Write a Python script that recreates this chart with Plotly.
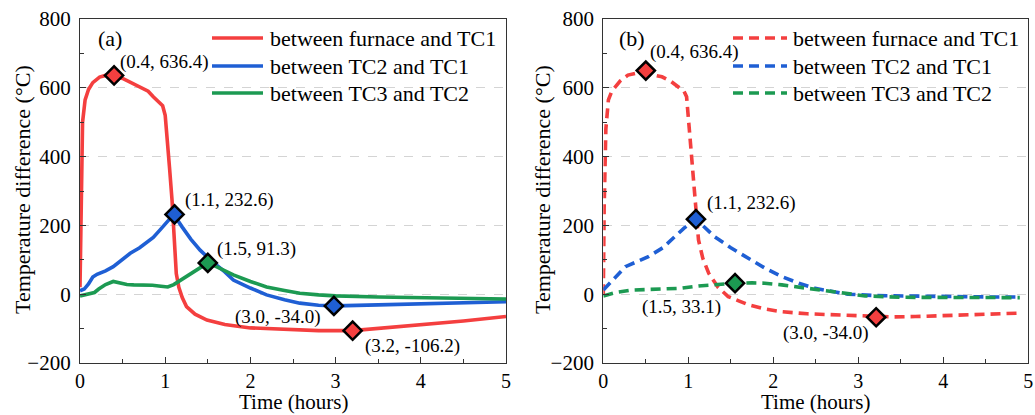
import plotly.graph_objects as go

# ---------------- data (panel a) ----------------
red_a_x = [0, 0.01, 0.03, 0.06, 0.1, 0.15, 0.23, 0.3, 0.4, 0.5, 0.6, 0.7, 0.8, 0.86, 0.92, 0.97, 1.0, 1.02,
           1.05, 1.08, 1.11, 1.13, 1.16, 1.2, 1.25, 1.35, 1.49, 1.7, 2.0, 2.46, 2.8, 3.2, 3.6, 4.0, 4.5, 5.0]
red_a_y = [20, 250, 500, 565, 595, 615, 631, 636, 636, 627, 615, 604, 590, 574, 560, 548, 520, 468,
           370, 274, 150, 60, 20, -10, -36, -58, -75, -88, -98, -104, -106, -106, -98, -90, -78, -65]

blue_a_x = [0, 0.05, 0.1, 0.15, 0.2, 0.3, 0.39, 0.5, 0.59, 0.7, 0.78, 0.86, 0.94, 1.02, 1.1, 1.2, 1.3,
            1.41, 1.55, 1.7, 1.8, 2.0, 2.19, 2.4, 2.58, 2.8, 3.0, 3.5, 4.0, 4.5, 5.0]
blue_a_y = [10, 15, 30, 50, 58, 68, 80, 100, 119, 135, 149, 165, 187, 210, 232, 195, 160,
            128, 95, 65, 41, 18, -2, -16, -26, -32, -34, -31, -28, -25, -22]

green_a_x = [0, 0.1, 0.17, 0.22, 0.3, 0.39, 0.47, 0.55, 0.63, 0.75, 0.85, 0.95, 1.03, 1.1, 1.18, 1.25,
             1.35, 1.5, 1.6, 1.7, 1.8, 2.0, 2.19, 2.4, 2.58, 2.8, 3.0, 3.5, 4.0, 4.5, 5.0]
green_a_y = [-5, 2, 5, 15, 28, 37, 33, 28, 27, 27, 26, 23, 21, 28, 40, 51,
             68, 91, 80, 67, 56, 37, 21, 11, 3, -2, -5, -8, -10, -12, -14]

# ---------------- data (panel b) ----------------
red_b_x = [0, 0.01, 0.03, 0.06, 0.1, 0.14, 0.2, 0.29, 0.4, 0.5, 0.6, 0.69, 0.8, 0.88, 0.95, 0.98, 1.0,
           1.04, 1.08, 1.12, 1.17, 1.24, 1.35, 1.47, 1.6, 1.71, 1.9, 2.1, 2.4, 2.69, 3.0, 3.21, 3.4,
           3.67, 4.0, 4.5, 4.9]
red_b_y = [0, 250, 480, 565, 590, 603, 620, 637, 643, 642, 638, 632, 618, 603, 590, 574, 516,
           419, 274, 158, 105, 61, 20, -7, -20, -31, -43, -51, -57, -60, -63, -66, -66,
           -65, -62, -58, -55]

blue_b_x = [0, 0.26, 0.53, 0.7, 0.84, 0.95, 1.09, 1.2, 1.31, 1.5, 1.71, 1.9, 2.1, 2.3, 2.49, 2.7,
            2.88, 3.2, 3.6, 4.0, 4.5, 4.9]
blue_b_y = [12, 80, 109, 135, 167, 192, 218, 192, 167, 135, 104, 76, 51, 32, 17, 7,
            0, -4, -6, -7, -8, -8]

green_b_x = [0, 0.15, 0.33, 0.5, 0.72, 0.9, 1.12, 1.3, 1.55, 1.75, 1.9, 2.1, 2.3, 2.49, 2.8, 3.08,
             3.5, 4.0, 4.5, 4.9]
green_b_y = [-5, 5, 12, 13, 14, 17, 24, 28, 32, 33, 32, 27, 20, 14, 4, -5,
             -9, -10, -10, -10]

# highlighted points
mk_a_x = [0.4, 1.11, 1.5, 2.98, 3.2]
mk_a_y = [636, 232, 91, -34, -106]
mk_a_c = ["red", "blue", "green", "blue", "red"]
mk_a_txt = ["(0.4, 636.4)", "(1.1, 232.6)", "(1.5, 91.3)", "(3.0, -34.0)", "(3.2, -106.2)"]
lab_a_x = [0.45, 1.21, 1.58, 2.84, 3.32]
lab_a_y = [675, 274, 131, -66, -150]
lab_a_anchor = ["left", "left", "left", "right", "left"]

mk_b_x = [0.5, 1.09, 1.55, 3.21]
mk_b_y = [650, 218, 32, -67]
mk_b_c = ["red", "blue", "green", "red"]
mk_b_txt = ["(0.4, 636.4)", "(1.1, 232.6)", "(1.5, 33.1)", "(3.0, -34.0)"]
lab_b_x = [0.53, 1.20, 1.41, 3.14]
lab_b_y = [705, 265, -36, -113]
lab_b_anchor = ["left", "left", "right", "right"]

names = ["between furnace and TC1", "between TC2 and TC1", "between TC3 and TC2"]
colors = ["red", "blue", "green"]
x_ticks = [0, 1, 2, 3, 4, 5]
y_ticks = [-200, 0, 200, 400, 600, 800]
x_title = "Time (hours)"
y_title = "Temperature difference (°C)"

COL = {"red": "#F43F3F", "blue": "#1F5FD4", "green": "#1C9A52"}
FONT = "Liberation Serif, Times New Roman, serif"
DASH = "10px,6px"
W, H = 1035, 415

fig = go.Figure()

series_a = [(red_a_x, red_a_y), (blue_a_x, blue_a_y), (green_a_x, green_a_y)]
series_b = [(red_b_x, red_b_y), (blue_b_x, blue_b_y), (green_b_x, green_b_y)]

for (xs, ys), nm, c in zip(series_a, names, colors):
    fig.add_trace(go.Scatter(x=xs, y=ys, mode="lines", name=nm, line=dict(color=COL[c], width=3.6),
                             xaxis="x", yaxis="y", showlegend=False))
for (xs, ys), nm, c in zip(series_b, names, colors):
    fig.add_trace(go.Scatter(x=xs, y=ys, mode="lines", name=nm,
                             line=dict(color=COL[c], width=3.6, dash=DASH),
                             xaxis="x2", yaxis="y2", showlegend=False))

fig.add_trace(go.Scatter(x=mk_a_x, y=mk_a_y, mode="markers", showlegend=False, xaxis="x", yaxis="y",
                         marker=dict(symbol="diamond", size=14, color=[COL[c] for c in mk_a_c],
                                     line=dict(color="black", width=2.5))))
fig.add_trace(go.Scatter(x=mk_b_x, y=mk_b_y, mode="markers", showlegend=False, xaxis="x2", yaxis="y2",
                         marker=dict(symbol="diamond", size=14, color=[COL[c] for c in mk_b_c],
                                     line=dict(color="black", width=2.5))))

annotations = []
for x, y, t, a in zip(lab_a_x, lab_a_y, mk_a_txt, lab_a_anchor):
    annotations.append(dict(x=x, y=y, xref="x", yref="y", text=t, showarrow=False, xanchor=a,
                            yanchor="middle", font=dict(family=FONT, size=19, color="black")))
for x, y, t, a in zip(lab_b_x, lab_b_y, mk_b_txt, lab_b_anchor):
    annotations.append(dict(x=x, y=y, xref="x2", yref="y2", text=t, showarrow=False, xanchor=a,
                            yanchor="middle", font=dict(family=FONT, size=19, color="black")))
annotations.append(dict(x=0.19, y=742, xref="x", yref="y", text="(a)", showarrow=False, xanchor="left",
                        yanchor="middle", font=dict(family=FONT, size=22, color="black")))
annotations.append(dict(x=0.16, y=742, xref="x2", yref="y2", text="(b)", showarrow=False, xanchor="left",
                        yanchor="middle", font=dict(family=FONT, size=22, color="black")))

# axis titles as annotations (exact placement)
for cx in [22.5, 542.5]:
    annotations.append(dict(x=cx / W, y=(H - 189.5) / H, xref="paper", yref="paper", text=y_title,
                            textangle=-90, showarrow=False, xanchor="center", yanchor="middle",
                            font=dict(family=FONT, size=22, color="black")))
for cx in [293, 815.8]:
    annotations.append(dict(x=cx / W, y=0, xref="paper", yref="paper", text=x_title,
                            showarrow=False, xanchor="center", yanchor="bottom", borderpad=0,
                            font=dict(family=FONT, size=21, color="black")))

# manual legends (line sample + text) in paper coordinates
leg_rows_px = [38, 66, 93]
shapes = []
for lx0, lx1, tx, dash in [(212, 263, 268, None), (733, 787, 791, DASH)]:
    for py, nm, c in zip(leg_rows_px, names, colors):
        ln = dict(color=COL[c], width=3.6)
        if dash:
            ln["dash"] = dash
        shapes.append(dict(type="line", xref="paper", yref="paper", x0=lx0 / W, x1=lx1 / W,
                           y0=(H - py) / H, y1=(H - py) / H, line=ln))
        annotations.append(dict(x=tx / W, y=(H - py) / H, xref="paper", yref="paper", text=nm,
                                showarrow=False, xanchor="left", yanchor="middle",
                                font=dict(family=FONT, size=22, color="black")))


def xax(domain, anchor):
    return dict(domain=domain, anchor=anchor, range=[0, 5], tickvals=x_ticks, automargin=False,
                ticks="inside", ticklen=6, tickwidth=1.3, tickcolor="#333",
                minor=dict(ticks="inside", ticklen=3.5, dtick=0.5, tick0=0, tickcolor="#333", showgrid=False),
                showline=True, linecolor="#333", linewidth=1.3, mirror=True, showgrid=False, zeroline=False,
                tickfont=dict(family=FONT, size=20, color="black"))


def yax(domain, anchor):
    return dict(domain=domain, anchor=anchor, range=[-200, 800], tickvals=y_ticks, automargin=False,
                ticks="inside", ticklen=6, tickwidth=1.3, tickcolor="#333",
                minor=dict(ticks="inside", ticklen=3.5, dtick=100, tick0=0, tickcolor="#333", showgrid=False),
                showline=True, linecolor="#333", linewidth=1.3, mirror=True,
                showgrid=True, gridcolor="#d4d4d4", griddash="dash", gridwidth=1, zeroline=False,
                tickfont=dict(family=FONT, size=21, color="black"), ticklabelstandoff=4)


ydom = [52 / H, 396 / H]
fig.update_layout(
    width=W, height=H, margin=dict(l=0, r=0, t=0, b=0, autoexpand=False),
    paper_bgcolor="white", plot_bgcolor="white", showlegend=False,
    xaxis=xax([80 / W, 506 / W], "y"),
    yaxis=yax(ydom, "x"),
    xaxis2=xax([603.3 / W, 1028.3 / W], "y2"),
    yaxis2=yax(ydom, "x2"),
    annotations=annotations,
    shapes=shapes,
)

fig.write_html("out.html")
